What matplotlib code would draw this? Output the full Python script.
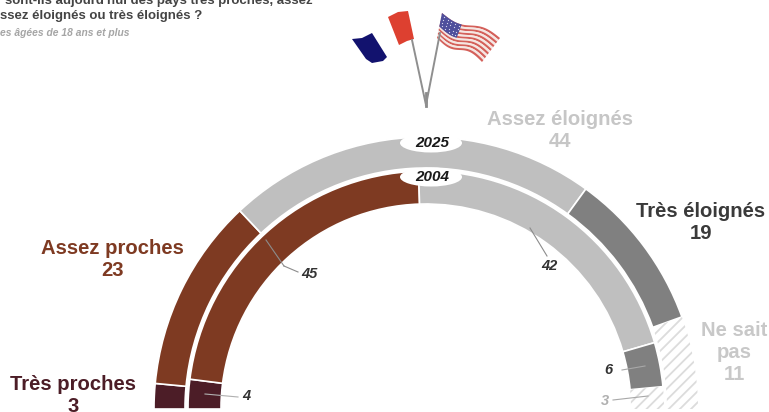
import numpy as np
import matplotlib
matplotlib.use('Agg')
import matplotlib.pyplot as plt
from matplotlib.patches import Wedge, Ellipse, Polygon

plt.rcParams['font.family'] = ['Liberation Sans', 'DejaVu Sans']
plt.rcParams['hatch.linewidth'] = 1.3

categories = ['Très proches', 'Assez proches', 'Assez éloignés', 'Très éloignés', 'Ne sait pas']
values_2025 = [3, 23, 44, 19, 11]
values_2004 = [4, 45, 42, 6, 3]
colors = ['#4c1d27', '#7e3a22', '#bfbfbf', '#808080', None]

W, H = 769, 412
CX, CY = 426, H - 409


def draw_band(ax, values, r_out, r_in):
    # les valeurs sont cumulees de gauche a droite sur le demi-cercle
    start = 0
    for v, c in zip(values, colors):
        t1 = 180 - (start + v) * 1.8
        t2 = 180 - start * 1.8
        if c is None:
            ax.add_patch(Wedge((CX, CY), r_out, t1, t2, width=r_out - r_in,
                               facecolor='white', edgecolor='#dcdcdc', hatch='///', lw=0))
        else:
            ax.add_patch(Wedge((CX, CY), r_out, t1, t2, width=r_out - r_in,
                               facecolor=c, edgecolor='white', lw=1.2))
        start += v


def y_(py):
    return H - py


def leader(ax, x1, y1, x2, y2, color='#8c8c8c', lw=0.8):
    ax.plot([x1, x2], [y_(y1), y_(y2)], color=color, lw=lw, zorder=6)


def draw_flags(ax):
    # mats
    leader(ax, 426, 105, 412, 40, '#8f8f8f', 1.4)
    leader(ax, 426, 105, 440, 33, '#8f8f8f', 1.4)
    ax.plot([426, 426], [y_(93), y_(106)], color='#8a8a8a', lw=2)

    # drapeau francais, le blanc se confond avec le fond
    blue = [(352, 39), (362, 38), (372, 33), (387, 57), (383, 61), (372, 63), (366, 59)]
    red = [(388, 17), (398, 12), (408, 11), (414, 39), (407, 41), (399, 45)]
    ax.add_patch(Polygon([(x, y_(y)) for x, y in blue], color='#12126e', lw=0))
    ax.add_patch(Polygon([(x, y_(y)) for x, y in red], color='#dd4030', lw=0))

    # drapeau americain ondule
    def point(u, v):
        tx = 442 + (500 - 442) * u
        ty = 13 + (38 - 13) * u
        bx = 437 + (482 - 437) * u
        by = 38 + (62 - 38) * u
        wave = 3.5 * np.sin(u * 2 * np.pi)
        return tx + (bx - tx) * v, ty + (by - ty) * v + wave

    u = np.linspace(0, 1, 40)
    for i in range(13):
        v0, v1 = i / 13, (i + 1) / 13
        top = [point(a, v0) for a in u]
        bottom = [point(a, v1) for a in u[::-1]]
        col = '#d4605a' if i % 2 == 0 else '#f5e6e2'
        ax.add_patch(Polygon([(x, y_(y)) for x, y in top + bottom], color=col, lw=0, zorder=3))
    uc = np.linspace(0, 0.34, 12)
    top = [point(a, 0) for a in uc]
    bottom = [point(a, 0.54) for a in uc[::-1]]
    ax.add_patch(Polygon([(x, y_(y)) for x, y in top + bottom], color='#4f4f9c', lw=0, zorder=4))
    # etoiles reduites a des points
    for a in np.linspace(0.04, 0.3, 5):
        for b in np.linspace(0.08, 0.46, 4):
            px, py = point(a, b)
            ax.plot(px, y_(py), 'o', ms=0.9, mew=0, color='#d8d8ee', zorder=5)


fig = plt.figure(figsize=(W / 100, H / 100), dpi=100)
ax = fig.add_axes([0, 0, 1, 1])
ax.set_xlim(0, W)
ax.set_ylim(0, H)
ax.axis('off')

draw_band(ax, values_2025, 272, 241)
draw_band(ax, values_2004, 238, 205)

# pastilles des annees
for year, py in [('2025', 143), ('2004', 177)]:
    ax.add_patch(Ellipse((431, y_(py)), 62, 19, facecolor='white', edgecolor='none', zorder=5))
    ax.text(432, y_(py), year, ha='center', va='center', fontsize=11, fontweight='bold',
            fontstyle='italic', color='#1a1a1a', zorder=6)

draw_flags(ax)

# titre
title_kw = dict(fontsize=9.5, fontweight='bold', color='#444444', ha='right', va='center')
ax.text(313, y_(1), "sont-ils aujourd'hui des pays très proches, assez", **title_kw)
ax.text(202, y_(16), 'ssez éloignés ou très éloignés ?', **title_kw)
ax.text(129, y_(33), 'es âgées de 18 ans et plus', ha='right', va='center', fontsize=7.4,
        fontstyle='italic', fontweight='bold', color='#a5a5a5')

# etiquettes principales (2025)
big = dict(ha='center', va='center', fontsize=14.6, fontweight='bold', linespacing=1.2)
ax.text(560, y_(130), f'{categories[2]}\n{values_2025[2]}', color='#c6c6c6', **big)
ax.text(701, y_(222), f'{categories[3]}\n{values_2025[3]}', color='#3a3a3a', **big)
ax.text(112, y_(260), f'{categories[1]}\n{values_2025[1]}', color='#7e3a22', **big)
ax.text(73, y_(395), f'{categories[0]}\n{values_2025[0]}', color='#4c1d27', **big)
ax.text(734, y_(353), f'Ne sait\npas\n{values_2025[4]}', color='#c8c8c8', **big)

# valeurs 2004 avec leurs traits de rappel
small = dict(ha='center', va='center', fontsize=10.5, fontweight='bold', fontstyle='italic', zorder=7)
ax.text(309, y_(274), str(values_2004[1]), color='#333333', **small)
leader(ax, 298, 272, 284, 266)
leader(ax, 284, 266, 266, 240)
ax.text(549, y_(266), str(values_2004[2]), color='#333333', **small)
leader(ax, 547, 256, 530, 228)
ax.text(246, y_(396), str(values_2004[0]), color='#333333', **small)
leader(ax, 205, 394, 238, 397, '#b0b0b0')
ax.text(608, y_(370), str(values_2004[3]), color='#333333', **small)
leader(ax, 622, 370, 645, 366, '#a8a8a8')
ax.text(605, y_(401), str(values_2004[4]), color='#b0b0b0', **small)
leader(ax, 613, 400, 648, 396, '#a8a8a8')

fig.savefig('out.png', dpi=100, facecolor='white')
